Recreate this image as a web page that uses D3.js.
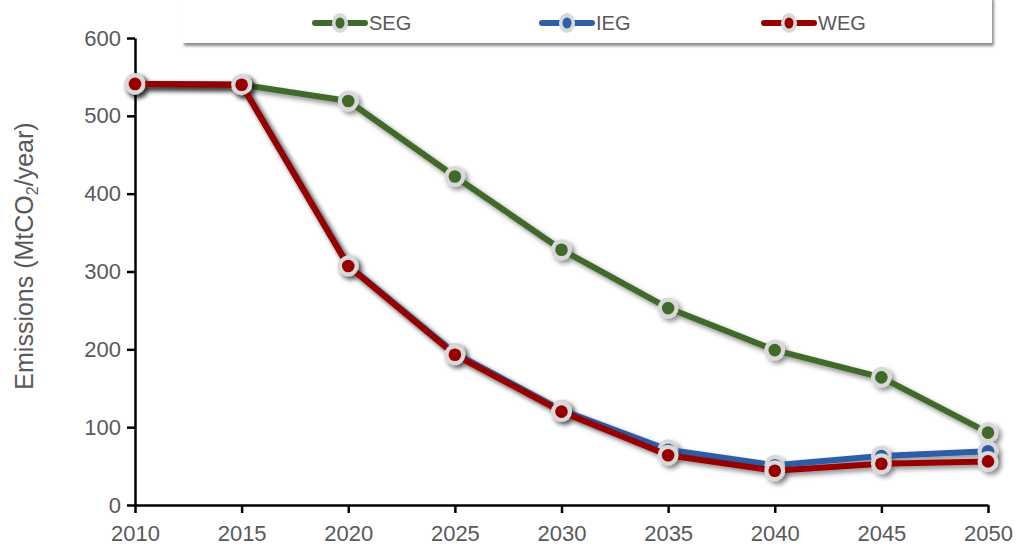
<!DOCTYPE html>
<html><head><meta charset="utf-8">
<script src="https://cdn.jsdelivr.net/npm/d3@7"></script>
<style>body{margin:0;background:#fff}svg{display:block}</style>
</head><body>
<svg id="c" width="1016" height="554"></svg>
<script>
const years = [2010, 2015, 2020, 2025, 2030, 2035, 2040, 2045, 2050];
const SEG = [541, 540, 519, 422, 328, 253, 199, 164, 93];
const IEG = [541, 540, 308, 195, 122, 71, 51, 63, 69];
const WEG = [541, 540, 307, 193, 120, 64, 44, 53, 56];
const seriesNames = ["SEG", "IEG", "WEG"];
const seriesColors = ["#41692b", "#2f5da6", "#980000"];
const yTicks = [0, 100, 200, 300, 400, 500, 600];

const svg = d3.select("#c");
const x = d3.scaleLinear().domain([2010, 2050]).range([135, 988]);
const y = d3.scaleLinear().domain([0, 600]).range([505, 38]);

const defs = svg.append("defs");
const f = defs.append("filter").attr("id","sh").attr("x","-20%").attr("y","-20%").attr("width","140%").attr("height","140%");
f.append("feDropShadow").attr("dx",3).attr("dy",3).attr("stdDeviation",2.5).attr("flood-color","#000").attr("flood-opacity",0.45);
const f2 = defs.append("filter").attr("id","lsh").attr("x","-5%").attr("y","-50%").attr("width","110%").attr("height","200%");
f2.append("feDropShadow").attr("dx",2).attr("dy",3).attr("stdDeviation",1.8).attr("flood-color","#000").attr("flood-opacity",0.45);

// legend box
svg.append("rect").attr("x",182).attr("y",-4).attr("width",810).attr("height",47)
  .attr("fill","#fff").attr("filter","url(#lsh)");

const font = "'Liberation Sans', Arial, sans-serif";

// axes
const yAxis = svg.append("g").attr("transform","translate(135,0)")
  .call(d3.axisLeft(y).tickValues(yTicks).tickSize(8).tickSizeOuter(0).tickPadding(6));
const xAxis = svg.append("g").attr("transform","translate(0,505)")
  .call(d3.axisBottom(x).tickValues(years).tickFormat(d3.format("d")).tickSize(8).tickSizeOuter(0).tickPadding(18));
[yAxis, xAxis].forEach(a => {
  a.select(".domain").attr("stroke","#000").attr("stroke-width",2.5);
  a.selectAll(".tick line").attr("stroke","#000").attr("stroke-width",2.5);
  a.selectAll(".tick text").attr("fill","#595959").style("font-family",font).style("font-size","22px");
});
xAxis.selectAll(".tick text").attr("dy","0.45em");

// y label
const yl = svg.append("text").attr("transform","translate(33,256) rotate(-90)")
  .attr("text-anchor","middle").attr("fill","#595959").style("font-family",font).style("font-size","25px");
yl.append("tspan").text("Emissions (MtCO");
yl.append("tspan").text("2").attr("font-size","16px").attr("dy",5);
yl.append("tspan").text("/year)").attr("dy",-5);

const data = [SEG, IEG, WEG];
const line = d3.line().x((d,i)=>x(years[i])).y(d=>y(d));
const plot = svg.append("g");
data.forEach((vals, k) => {
  const g = plot.append("g").attr("filter","url(#sh)");
  g.append("path").datum(vals).attr("d",line).attr("fill","none")
    .attr("stroke",seriesColors[k]).attr("stroke-width",6).attr("stroke-linejoin","round");
  g.selectAll("circle.o").data(vals).join("circle").attr("class","o")
    .attr("cx",(d,i)=>x(years[i])).attr("cy",d=>y(d)).attr("r",10.5).attr("fill","#d9d9d9");
  g.selectAll("circle.i").data(vals).join("circle").attr("class","i")
    .attr("cx",(d,i)=>x(years[i])).attr("cy",d=>y(d)).attr("r",6.3).attr("fill",seriesColors[k]);
});

// legend items
const legX = [313, 540, 762];
seriesNames.forEach((n,k) => {
  const g = svg.append("g");
  g.append("line").attr("x1",legX[k]+2).attr("x2",legX[k]+52).attr("y1",23).attr("y2",23)
    .attr("stroke",seriesColors[k]).attr("stroke-width",6).attr("stroke-linecap","round");
  g.append("ellipse").attr("cx",legX[k]+27).attr("cy",23).attr("rx",8).attr("ry",10).attr("fill","#d9d9d9");
  g.append("ellipse").attr("cx",legX[k]+27).attr("cy",23).attr("rx",4.5).attr("ry",5.5).attr("fill",seriesColors[k]);
  g.append("text").attr("x",legX[k]+56).attr("y",23).attr("dy","0.36em").text(n)
    .attr("fill","#595959").style("font-family",font).style("font-size","20px");
});
</script>
</body></html>
